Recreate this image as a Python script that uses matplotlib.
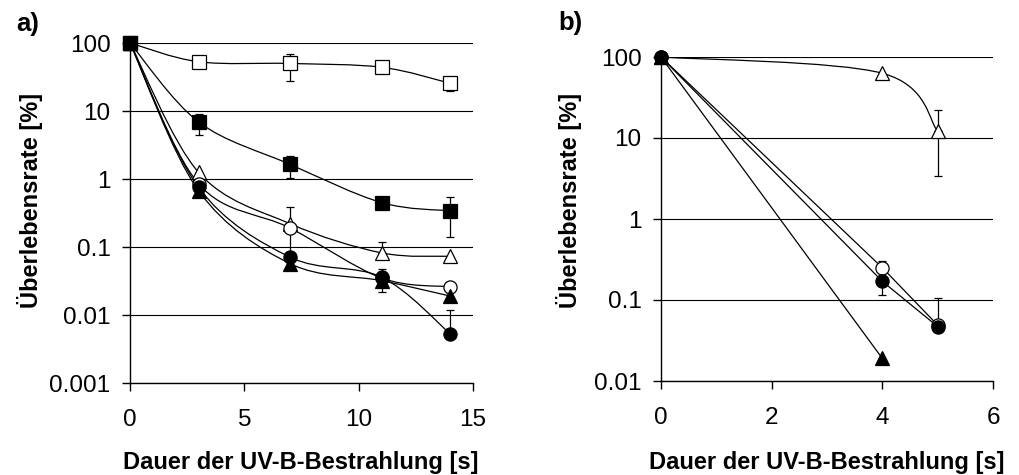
"""
Ueberlebensrate nach UV-B-Bestrahlung, zwei Panels (a, b), log-Skala.
"""
import numpy as np
import matplotlib
matplotlib.use("Agg")
import matplotlib.pyplot as plt
from matplotlib.path import Path
from matplotlib.patches import PathPatch

plt.rcParams["font.family"] = ["Liberation Sans", "DejaVu Sans"]

# --- Panel a) ---
xa = [0, 3, 7, 11, 14]
a_sq_open = [100, 53, 50, 44, 25.6]
a_sq_fill = [100, 6.9, 1.64, 0.45, 0.34]
a_tri_open = [100, 1.25, 0.22, 0.082, 0.073]
a_circ_open = [100, 0.85, 0.19, 0.035, 0.026]
a_circ_fill = [100, 0.75, 0.071, 0.036, 0.0053]
a_tri_fill = [100, 0.67, 0.057, 0.032, 0.019]
# Fehlerbalken: (Index, untere Grenze, obere Grenze) -- None = kein Balken
a_sq_open_err = [(2, 28, 68), (4, 20, None)]
a_sq_fill_err = [(1, 4.5, 9.0), (2, 1.05, 2.2), (4, 0.14, 0.55)]
a_tri_open_err = [(2, None, 0.39), (3, None, 0.12)]
a_circ_open_err = [(2, 0.08, None)]
a_circ_fill_err = [(4, None, 0.012)]
a_tri_fill_err = [(3, 0.022, 0.048)]

# --- Panel b) ---
xb = [0, 4, 5]
b_tri_open = [100, 63, 12.2]
b_circ_open = [100, 0.25, 0.049]
b_circ_fill = [100, 0.17, 0.047]
xb_tri = [0, 4]
b_tri_fill = [100, 0.019]
b_tri_open_err = [(2, 3.4, 22)]
b_circ_open_err = [(1, None, 0.30), (2, None, 0.105)]
b_circ_fill_err = [(1, 0.115, None)]

ticks_a = [0.001, 0.01, 0.1, 1, 10, 100]
ticklabels_a = ["0.001", "0.01", "0.1", "1", "10", "100"]
ticks_b = [0.01, 0.1, 1, 10, 100]
ticklabels_b = ["0.01", "0.1", "1", "10", "100"]

xlabel = "Dauer der UV-B-Bestrahlung [s]"
ylabel = "Überlebensrate [%]"

STYLES = {
    "sq_open": dict(marker="s", mfc="white", ms=9.5),
    "sq_fill": dict(marker="s", mfc="black", ms=9.5),
    "tri_open": dict(marker="^", mfc="white", ms=10.5),
    "tri_fill": dict(marker="^", mfc="black", ms=10.5),
    "circ_open": dict(marker="o", mfc="white", ms=9.5),
    "circ_fill": dict(marker="o", mfc="black", ms=9.5),
}


def smooth_path(x, y):
    """Excel-artige geglaettete Linie (Bezier in x / log10(y))."""
    ly = np.log10(y)
    pts = np.column_stack([x, ly]).astype(float)
    n = len(pts)
    verts = [pts[0]]
    codes = [Path.MOVETO]
    for i in range(n - 1):
        p0 = pts[i - 1] if i > 0 else pts[i]
        p1, p2 = pts[i], pts[i + 1]
        p3 = pts[i + 2] if i + 2 < n else pts[i + 1]
        c1 = p1 + (p2 - p0) / 6
        c2 = p2 - (p3 - p1) / 6
        verts += [c1, c2, p2]
        codes += [Path.CURVE4] * 3
    verts = np.array(verts)
    verts[:, 1] = 10 ** verts[:, 1]
    return Path(verts, codes)


def serie(ax, x, y, style, errs=(), smooth=True):
    if smooth and len(x) > 2:
        ax.add_patch(PathPatch(smooth_path(x, y), fill=False, lw=0.9,
                               ec="black", zorder=2))
    else:
        ax.plot(x, y, color="black", lw=0.9, zorder=2)
    for i, lo, hi in errs:
        if lo is not None:
            ax.errorbar([x[i]], [y[i]], yerr=[[y[i] - lo], [0]], fmt="none",
                        ecolor="black", elinewidth=0.9, capsize=3, capthick=0.9,
                        zorder=2)
        if hi is not None:
            ax.errorbar([x[i]], [y[i]], yerr=[[0], [hi - y[i]]], fmt="none",
                        ecolor="black", elinewidth=0.9, capsize=3, capthick=0.9,
                        zorder=2)
    ax.plot(x, y, ls="none", mec="black", mew=0.9, clip_on=False, zorder=3,
            **STYLES[style])


def style_axes(ax, xlim, xticks, yticks, ylabels):
    ax.set_yscale("log")
    ax.set_xlim(*xlim)
    ax.set_ylim(yticks[0], yticks[-1])
    ax.set_xticks(xticks)
    ax.set_yticks(yticks)
    ax.set_yticklabels(ylabels)
    ax.minorticks_off()
    for s in ["top", "right"]:
        ax.spines[s].set_visible(False)
    for s in ["left", "bottom"]:
        ax.spines[s].set_linewidth(1.0)
    ax.tick_params(axis="both", direction="out", length=6, width=1.0,
                   labelsize=17.5, color="black")
    ax.tick_params(axis="x", pad=13)
    ax.tick_params(axis="y", pad=8)
    ax.grid(axis="y", color="black", lw=0.8)
    ax.set_axisbelow(True)


fig = plt.figure(figsize=(10.19, 4.75), dpi=100)
W, H = 1019, 475
axa = fig.add_axes([130 / W, 1 - 383 / H, 343 / W, 340 / H])
axb = fig.add_axes([661 / W, 1 - 381 / H, 332 / W, 324 / H])

style_axes(axa, (0, 15), [0, 5, 10, 15], ticks_a, ticklabels_a)
style_axes(axb, (0, 6), [0, 2, 4, 6], ticks_b, ticklabels_b)

serie(axa, xa, a_sq_open, "sq_open", a_sq_open_err)
serie(axa, xa, a_sq_fill, "sq_fill", a_sq_fill_err)
serie(axa, xa, a_tri_open, "tri_open", a_tri_open_err)
serie(axa, xa, a_circ_open, "circ_open", a_circ_open_err)
serie(axa, xa, a_circ_fill, "circ_fill", a_circ_fill_err)
serie(axa, xa, a_tri_fill, "tri_fill", a_tri_fill_err)

serie(axb, xb, b_tri_open, "tri_open", b_tri_open_err)
serie(axb, xb, b_circ_open, "circ_open", b_circ_open_err, smooth=False)
serie(axb, xb, b_circ_fill, "circ_fill", b_circ_fill_err, smooth=False)
serie(axb, xb_tri, b_tri_fill, "tri_fill")

# Beschriftungen
fig.text(28 / W, 1 - 24 / H, "a)", fontsize=18.5, fontweight="bold",
         ha="center", va="center")
fig.text(570 / W, 1 - 23 / H, "b)", fontsize=18.5, fontweight="bold",
         ha="center", va="center")
fig.text(301 / W, 1 - 462 / H, xlabel, fontsize=17, fontweight="bold",
         ha="center", va="center")
fig.text(827 / W, 1 - 462 / H, xlabel, fontsize=17, fontweight="bold",
         ha="center", va="center")
fig.text(30 / W, 1 - 200 / H, ylabel, fontsize=17, fontweight="bold",
         ha="center", va="center", rotation=90)
fig.text(569 / W, 1 - 200 / H, ylabel, fontsize=17, fontweight="bold",
         ha="center", va="center", rotation=90)

fig.savefig("out.png", dpi=100)
